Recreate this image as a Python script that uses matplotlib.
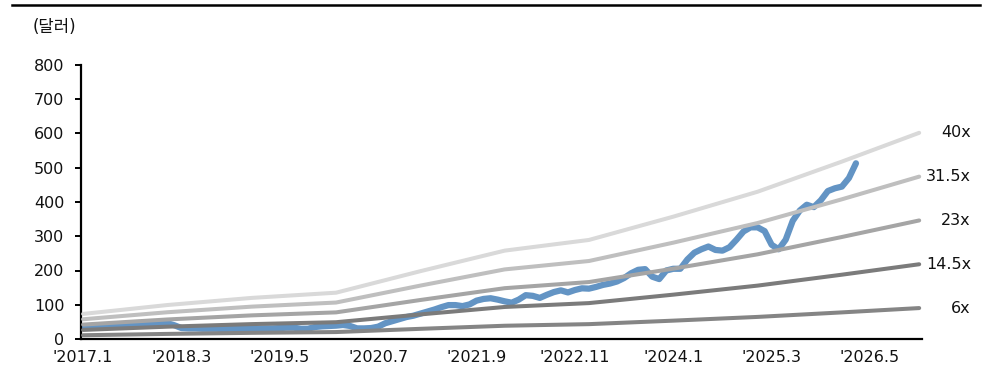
import matplotlib.pyplot as plt
from matplotlib.transforms import blended_transform_factory

plt.rcParams['font.family'] = ['DejaVu Sans', 'Noto Sans CJK KR']

# =========================
# DATA
# =========================

# monthly price, 2017.1 onwards (index = month)
price = [36, 36, 37, 37, 38, 38, 39, 40, 41, 42,
         44, 46, 46, 40, 32, 31, 31, 30, 30, 30,
         29, 30, 29, 30, 29, 30, 31, 31, 32, 33,
         33, 30, 30, 35, 37, 38, 39, 41, 38, 31,
         31, 32, 36, 46, 52, 58, 64, 68, 74, 80,
         86, 93, 99, 99, 96, 101, 112, 117, 119, 115,
         110, 106, 115, 128, 126, 120, 129, 137, 142, 136,
         143, 148, 147, 152, 158, 162, 168, 178, 192, 202,
         204, 182, 175, 200, 205, 205, 232, 252, 262, 270,
         260, 258, 268, 290, 314, 326, 326, 315, 275, 262,
         290, 345, 375, 392, 385, 405, 432, 440, 445, 470,
         513]

# 12M forward EPS at yearly kinks (month index)
eps_month = [0, 12, 24, 36, 48, 60, 72, 84, 96, 108, 119]
eps = [1.83, 2.48, 3.0, 3.38, 4.95, 6.45, 7.23, 8.93, 10.75, 12.95, 15.05]

multiples = [40, 31.5, 23, 14.5, 6]
band_labels = ['40x', '31.5x', '23x', '14.5x', '6x']
band_colors = ['#d9d9d9', '#bfbfbf', '#a5a5a5', '#7b7b7b', '#858585']

tick_pos = [0, 14, 28, 42, 56, 70, 84, 98, 112]
tick_labels = ["'2017.1", "'2018.3", "'2019.5", "'2020.7", "'2021.9",
               "'2022.11", "'2024.1", "'2025.3", "'2026.5"]

# =========================
# FIGURE
# =========================

fig = plt.figure(figsize=(9.92, 3.83), dpi=100)
ax = fig.add_axes([81 / 992, 44 / 383, 841 / 992, 274 / 383])

# price underneath the bands
ax.plot(range(len(price)), price, color='#6394c4',
        lw=4.5, solid_joinstyle='round', solid_capstyle='round', zorder=2)

# PER bands + right-hand labels
lab_tr = blended_transform_factory(fig.transFigure, ax.transData)
for m, lab, c in zip(multiples, band_labels, band_colors):
    vals = [e * m for e in eps]
    ax.plot(eps_month, vals, color=c, lw=2.9, solid_capstyle='round', zorder=3)
    ax.text(971 / 992, vals[-1], lab, transform=lab_tr, ha='right',
            va='center', fontsize=11.5, color='#111111')

ax.set_xlim(-0.3, 119.4)
ax.set_ylim(0, 800)
ax.set_yticks(range(0, 801, 100))
ax.set_xticks(tick_pos)
ax.set_xticklabels(tick_labels)

for s in ['top', 'right']:
    ax.spines[s].set_visible(False)
ax.spines['left'].set_linewidth(1.6)
ax.spines['bottom'].set_linewidth(1.6)
ax.tick_params(axis='y', direction='out', length=4, width=1.4, pad=8,
               labelsize=11.5, labelcolor='#111111')
ax.tick_params(axis='x', length=0, pad=8, labelsize=11.5, labelcolor='#111111')

fig.text(33 / 992, 1 - 27 / 383, '(달러)', ha='left', va='center',
         fontsize=12, color='#111111')

# top rule
fig.add_artist(plt.Line2D([12 / 992, 980 / 992], [1 - 5 / 383, 1 - 5 / 383],
                          color='black', lw=1.8, transform=fig.transFigure))

fig.savefig('out.png', dpi=100)
